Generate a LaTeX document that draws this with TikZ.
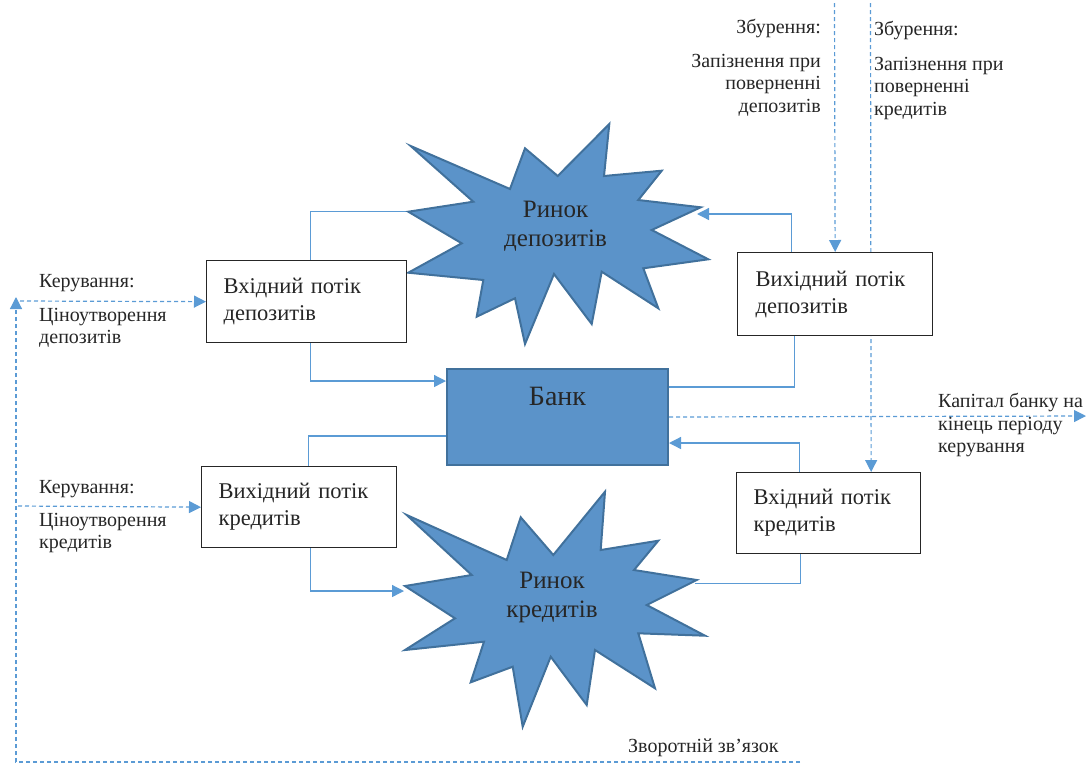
\documentclass[tikz,border=0pt]{standalone}
\usepackage{fontspec}
\setmainfont{Liberation Serif}
\usetikzlibrary{arrows.meta}
\pgfdeclarelayer{bg}
\pgfsetlayers{bg,main}
\definecolor{bankblue}{HTML}{5B93C9}
\definecolor{edgeblue}{HTML}{41719C}
\definecolor{lineblue}{HTML}{5B9BD5}
\definecolor{textgray}{HTML}{262626}

\begin{document}
\begin{tikzpicture}[x=1pt,y=-1pt,
  flowbox/.style={draw=black!85,fill=white,line width=1.3pt,align=left,inner ysep=0pt,
    font=\fontsize{22.5}{27}\selectfont,text=textgray,anchor=north west},
  bankbox/.style={draw=edgeblue,fill=bankblue,line width=2pt,inner sep=0pt,
    font=\fontsize{28}{32}\selectfont,text=textgray,anchor=north west},
  burst/.style={draw=edgeblue,fill=bankblue,line width=2pt},
  burstlbl/.style={align=center,font=\fontsize{25}{29}\selectfont,text=textgray,inner sep=0pt},
  lbl/.style={font=\fontsize{20}{22.5}\selectfont,text=textgray,inner sep=0pt},
  link/.style={draw=lineblue,line width=1.3pt},
  ctrl/.style={draw=lineblue,line width=1.2pt,dash pattern=on 4pt off 3pt},
  arr/.style={-{Triangle[length=12pt,width=12pt]}}]

\useasboundingbox (0,0) rectangle (1086,764);

% ринок депозитів
\draw[burst] (408.3,211.7) -- (473.3,201.7) -- (410.7,146) -- (510,189) -- (525,148.3)
  -- (557.7,176) -- (609.3,124) -- (604,176) -- (661.7,170.7) -- (638.3,200)
  -- (700.7,207.3) -- (651.7,230) -- (708.3,259.3) -- (643.3,268.3) -- (658.3,308.3)
  -- (601.7,271.7) -- (591.7,324) -- (554,274) -- (525,344) -- (515,298.3)
  -- (476.7,316.7) -- (483.3,280) -- (408.3,272.7) -- (461.7,243.3) -- cycle;
\coordinate (bd-w) at (408.3,211.7);
\coordinate (bd-e) at (697,214);
\node[burstlbl] (rdep) at (555.5,226) {Ринок\\депозитів};

% ринок кредитів
\draw[burst] (405,586) -- (471.7,575) -- (406.7,515) -- (506.7,560) -- (520.7,517.3)
  -- (553.3,555) -- (605,491.7) -- (600.7,550) -- (658.3,540.7) -- (634,570)
  -- (696.7,580) -- (646.7,605) -- (705,635.7) -- (638.3,633.3) -- (655,688.3)
  -- (595,650) -- (586.7,705) -- (550.7,656.7) -- (522.7,726.7) -- (512.7,666.7)
  -- (470.7,682.3) -- (484,641.7) -- (405,650) -- (455,618.3) -- cycle;
\coordinate (bc-w) at (404,591);
\coordinate (bc-e) at (695,583.3);
\node[burstlbl] (rcred) at (552,597) {Ринок\\кредитів};

% блоки
\node[flowbox,minimum width=200pt,minimum height=82pt,text width=166pt,inner xsep=17pt] (indep) at (206,260) {Вхідний потік\\депозитів};
\node[flowbox,minimum width=195pt,minimum height=83pt,text width=159pt,inner xsep=18pt] (outdep) at (737,252) {Вихідний потік\\депозитів};
\node[flowbox,minimum width=195pt,minimum height=81pt,text width=161pt,inner xsep=17pt] (outcred) at (201,466) {Вихідний потік\\кредитів};
\node[flowbox,minimum width=184pt,minimum height=81pt,text width=150pt,inner xsep=17pt] (incred) at (736,472) {Вхідний потік\\кредитів};
\node[bankbox,minimum width=221pt,text height=36pt,text depth=60pt] (bank) at (446,368) {Банк};

% підписи
\node[lbl,anchor=base east] (zb-dep) at (821,33) {Збурення:};
\node[lbl,anchor=north east,align=right] (zp-dep) at (821,54) {Запізнення при\\поверненні\\депозитів};
\node[lbl,anchor=base west] (zb-cred) at (874,35) {Збурення:};
\node[lbl,anchor=north west,align=left] (zp-cred) at (874,57) {Запізнення при\\поверненні\\кредитів};
\node[lbl,anchor=base west] (kr-dep) at (39,287) {Керування:};
\node[lbl,anchor=north west,align=left] (ct-dep) at (39,308) {Ціноутворення\\депозитів};
\node[lbl,anchor=base west] (kr-cred) at (39,493) {Керування:};
\node[lbl,anchor=north west,align=left] (ct-cred) at (39,513) {Ціноутворення\\кредитів};
\node[lbl,anchor=north west,align=left] (cap) at (938,393) {Капітал банку на\\кінець періоду\\керування};
\node[lbl,anchor=base west] (fb-lbl) at (628,752) {Зворотній зв’язок};

\coordinate (zb1) at (834.5,3);
\coordinate (zb2) at (870.5,3);
\coordinate (cap-end) at (1086,416);
\coordinate (fb-end) at (800,762);
\coordinate (fb-up) at (16,297);
\coordinate (kr1) at (20,301);
\coordinate (kr2) at (18,506);

\begin{pgfonlayer}{bg}
% потоки
\draw[link] ([xshift=4pt]indep.north) |- (bd-w);
\draw[link,arr] ([xshift=4pt]indep.south) |- ([yshift=36pt]bank.west);
\draw[link] ([yshift=30pt]bank.east) -| ([xshift=-41pt]outdep.south);
\draw[link,arr] ([xshift=-44pt]outdep.north) |- (bd-e);
\draw[link] ([yshift=-19pt]bank.west) -| ([xshift=9pt]outcred.north);
\draw[link,arr] ([xshift=11pt]outcred.south) |- (bc-w);
\draw[link] (bc-e) -| ([xshift=-28pt]incred.south);
\draw[link,arr] ([xshift=-29pt]incred.north) |- ([yshift=-26pt]bank.east);

% керування, збурення
\draw[ctrl,arr] (zb1) -- (outdep.north);
\draw[ctrl,arr] (zb2) -- ([xshift=42.5pt]incred.north);
\draw[ctrl,arr] (bank.east) -- (cap-end);
\draw[ctrl,arr] (kr1) -- (indep.west);
\draw[ctrl,arr] (kr2) -- (outcred.west);
\draw[ctrl,arr] (fb-end) -| (fb-up);
\end{pgfonlayer}
\end{tikzpicture}
\end{document}
